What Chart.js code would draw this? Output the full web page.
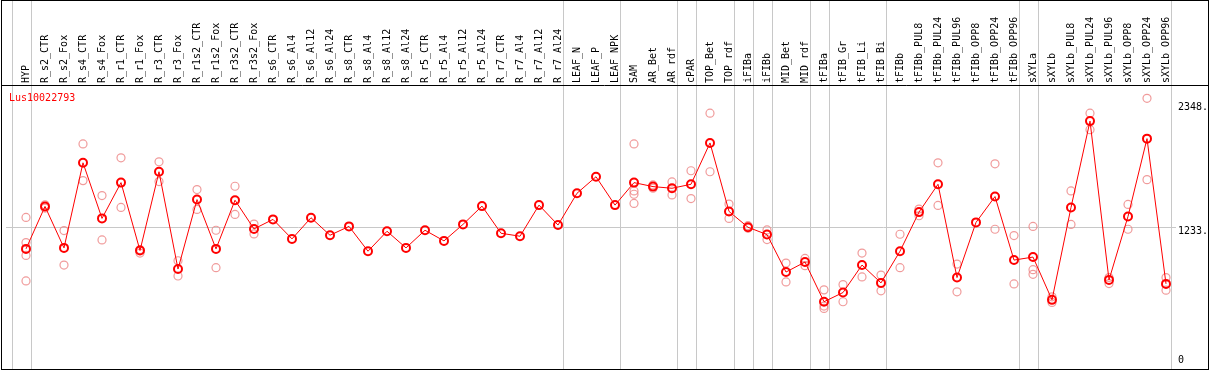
<!DOCTYPE html>
<html><head><meta charset="utf-8">
<script src="https://cdn.jsdelivr.net/npm/chart.js@4.4.1/dist/chart.umd.min.js"></script>
<style>html,body{margin:0;padding:0;background:#fff}canvas{display:block}</style>
</head><body>
<canvas id="c" width="1209" height="370"></canvas>
<script>
const categories = ['HYP','R_s2_CTR','R_s2_Fox','R_s4_CTR','R_s4_Fox','R_r1_CTR','R_r1_Fox','R_r3_CTR','R_r3_Fox','R_r1s2_CTR','R_r1s2_Fox','R_r3s2_CTR','R_r3s2_Fox','R_s6_CTR','R_s6_Al4','R_s6_Al12','R_s6_Al24','R_s8_CTR','R_s8_Al4','R_s8_Al12','R_s8_Al24','R_r5_CTR','R_r5_Al4','R_r5_Al12','R_r5_Al24','R_r7_CTR','R_r7_Al4','R_r7_Al12','R_r7_Al24','LEAF_N','LEAF_P','LEAF_NPK','SAM','AR_Bet','AR_rdf','cPAR','TOP_Bet','TOP_rdf','iFIBa','iFIBb','MID_Bet','MID_rdf','tFIBa','tFIB_Gr','tFIB_Li','tFIB_Bi','tFIBb','tFIBb_PUL8','tFIBb_PUL24','tFIBb_PUL96','tFIBb_OPP8','tFIBb_OPP24','tFIBb_OPP96','sXYLa','sXYLb','sXYLb_PUL8','sXYLb_PUL24','sXYLb_PUL96','sXYLb_OPP8','sXYLb_OPP24','sXYLb_OPP96'];
const means = [1039,1422,1048,1816,1314,1637,1024,1735,857,1484,1039,1478,1219,1305,1129,1320,1162,1242,1018,1198,1048,1207,1111,1260,1425,1180,1153,1434,1254,1541,1690,1434,1637,1601,1586,1622,1995,1377,1234,1168,830,920,562,645,893,732,1018,1371,1622,780,1278,1511,938,965,579,1413,2192,759,1332,2034,723];
const replicates = [
  [1323,1096,980,750],[1437,1407],[1204,893],[1986,1655],[1520,1120],[1861,1413],[1033,1001],[1825,1646],[932,794],[1574,1395],[1207,869],[1604,1350],[1263,1174],
  [],[],[],[],[],[],[],[],[],[],[],[],[],[],[],[],[],[],[],
  [1986,1562,1532,1449],[1616,1586],[1643,1526],[1744,1493],[2264,1735],[1443,1314],[1248,1225],[1210,1123],[911,741],[953,887],[669,523,502],[717,562],[1001,786],[803,660],[1171,869],[1398,1338],[1816,1431],[902,651],[],[1807,1216],[1159,723],[1242,851,809],[606,556],[1562,1260],[2264,2115],[780,726],[1440,1216],[2398,1664],[780,666]
];
const groupSizes = [1,28,3,3,1,2,1,1,2,1,3,7,1,7];
const yTickValues = [0,1233,2348];
const yAxisMax = 2518;
const chartTitle = 'Lus10022793';

const FONT = '"DejaVu Sans Mono", monospace';
const meanPoints = means.map((v,i)=>({x:i,y:v}));
const repPoints = [];
replicates.forEach((arr,i)=>arr.forEach(v=>repPoints.push({x:i,y:v})));

const framePlugin = {
  id:'frame',
  beforeDraw(chart){
    const ctx = chart.ctx; ctx.save(); ctx.fillStyle='#fff'; ctx.fillRect(0,0,chart.width,chart.height); ctx.restore();
  },
  beforeDatasetsDraw(chart){
    const ctx = chart.ctx, xs = chart.scales.x;
    ctx.save(); ctx.strokeStyle='#c8c8c8'; ctx.lineWidth=1;
    let b = -1;
    const bounds = [b];
    groupSizes.forEach(s=>{ b += s; bounds.push(b); });
    bounds.forEach(v=>{
      const px = Math.round(xs.getPixelForValue(v + 0.25)) + 0.5;
      ctx.beginPath(); ctx.moveTo(px,0); ctx.lineTo(px,chart.height); ctx.stroke();
    });
    ctx.restore();
  },
  afterDraw(chart){
    const ctx = chart.ctx, a = chart.chartArea;
    ctx.save();
    ctx.strokeStyle='#000'; ctx.lineWidth=1;
    ctx.strokeRect(1.5,0.5,chart.width-2,chart.height-1);
    ctx.beginPath(); ctx.moveTo(1,Math.round(a.top)+0.5); ctx.lineTo(chart.width-1,Math.round(a.top)+0.5); ctx.stroke();
    ctx.fillStyle='#ff0000'; ctx.font='10px '+FONT; ctx.textBaseline='alphabetic'; ctx.textAlign='left';
    ctx.fillText(chartTitle, 9, a.top + 16);
    ctx.restore();
  }
};

new Chart(document.getElementById('c'), {
  data: {
    datasets: [
      {type:'line', data: meanPoints, borderColor:'#ff0000', borderWidth:1, pointRadius:4, pointBorderWidth:2,
       pointBorderColor:'#ff0000', pointBackgroundColor:'rgba(0,0,0,0)', pointStyle:'circle', order:1},
      {type:'scatter', data: repPoints, borderColor:'rgba(236,130,130,0.8)', backgroundColor:'rgba(0,0,0,0)',
       pointRadius:4, pointBorderWidth:1.2, order:2}
    ]
  },
  options: {
    responsive:false, animation:false, devicePixelRatio:1,
    layout:{padding:{left:2,right:2,top:0,bottom:4}},
    plugins:{legend:{display:false}, tooltip:{enabled:false}},
    scales:{
      x:{type:'linear', position:'top', min:-20/19, max:1150/19,
         grid:{display:false, drawTicks:false}, border:{display:false},
         afterBuildTicks(s){ s.ticks = categories.map((c,i)=>({value:i})); },
         afterFit(s){ s.height = 85; s.paddingLeft=0; s.paddingRight=0; },
         ticks:{autoSkip:false, minRotation:90, maxRotation:90, padding:2, labelOffset:12, color:'#000',
           font:{family:FONT, size:10}, callback:(v)=>categories[v]}
      },
      y:{type:'linear', position:'right', min:0, max:yAxisMax,
         border:{display:false},
         grid:{drawTicks:false, color:(c)=> (c.tick && c.tick.value===yTickValues[1]) ? '#c8c8c8' : 'rgba(0,0,0,0)'},
         afterBuildTicks(s){ s.ticks = yTickValues.map(v=>({value:v})); },
         afterFit(s){ s.width = 31; s.paddingTop=0; s.paddingBottom=0; },
         ticks:{padding:2, color:'#000', font:{family:FONT, size:10, lineHeight:'8px'},
           callback:(v)=> v===0 ? ['0',''] : ['', v + '.']}
      }
    }
  },
  plugins:[framePlugin]
});
</script>
</body></html>
